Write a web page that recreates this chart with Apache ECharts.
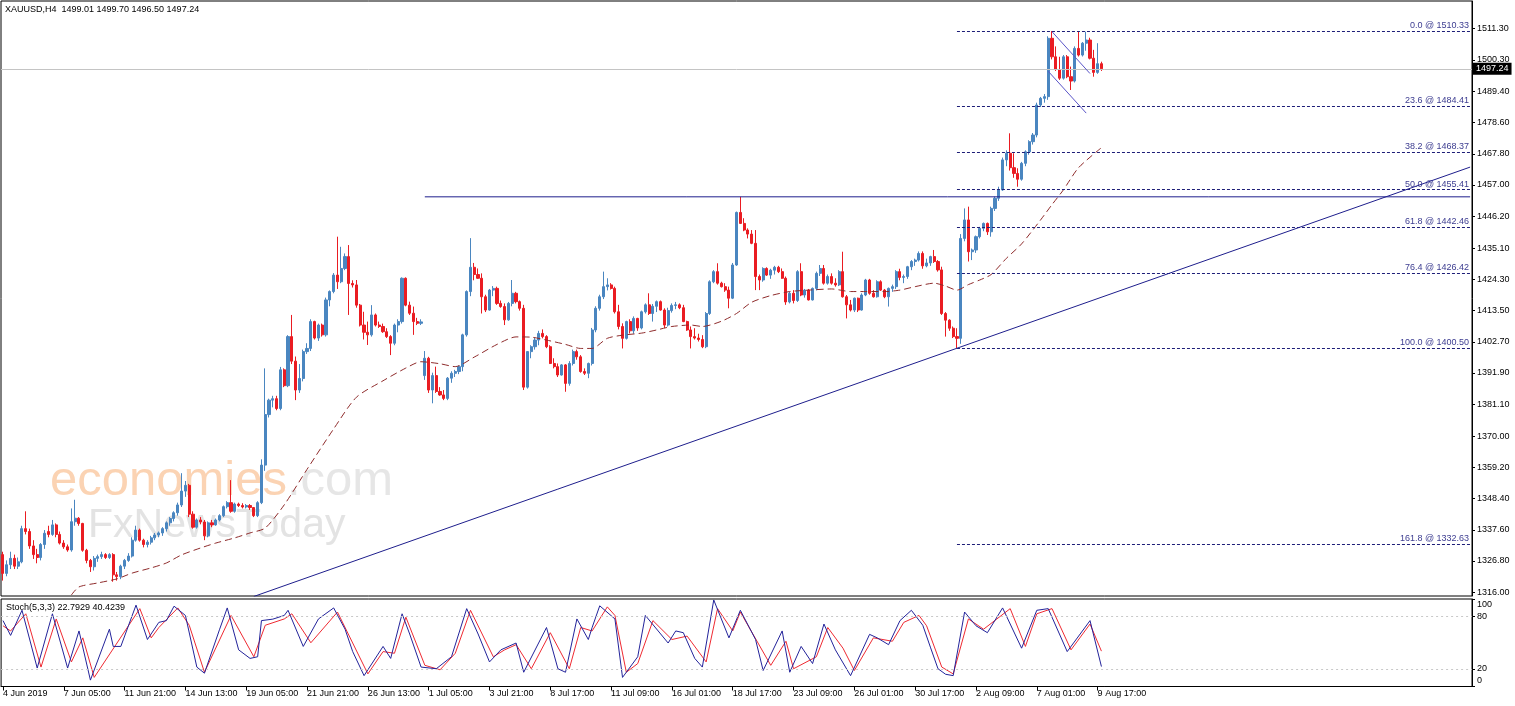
<!DOCTYPE html>
<html>
<head>
<meta charset="utf-8">
<script src="https://cdn.jsdelivr.net/npm/echarts@6/dist/echarts.min.js"></script>
<style>
html,body{margin:0;padding:0;background:#fff;}
#chart{width:1515px;height:706px;}
</style>
</head>
<body>
<div id="chart"></div>
<script>
// ---------- DATA ----------
const symbolTitle = 'XAUUSD,H4  1499.01 1499.70 1496.50 1497.24';
const stochTitle = 'Stoch(5,3,3) 22.7929 40.4239';

const xTickLabels = ['4 Jun 2019','7 Jun 05:00','11 Jun 21:00','14 Jun 13:00','19 Jun 05:00','21 Jun 21:00',
  '26 Jun 13:00','1 Jul 05:00','3 Jul 21:00','8 Jul 17:00','11 Jul 09:00','16 Jul 01:00','18 Jul 17:00',
  '23 Jul 09:00','26 Jul 01:00','30 Jul 17:00','2 Aug 09:00','7 Aug 01:00','9 Aug 17:00'];
const barsPerLabel = 16;
const totalSlots = 387;

const yTickValues = [1316.00,1326.80,1337.60,1348.40,1359.20,1370.00,1381.10,1391.90,1402.70,1413.50,
  1424.30,1435.10,1446.20,1457.00,1467.80,1478.60,1489.40,1500.30,1511.30];
const stochTickValues = [0,20,80,100];
const stochLevels = [20,80];

const opens = [1329,1322.5,1325.5,1327.7,1325,1326.5,1338,1337,1332,1329,
1328,1332.5,1337,1336,1339.3,1336,1333,1331.7,1330.6,1340.4,
1341.6,1339.8,1330.5,1327,1324.8,1327.7,1328.3,1329,1328,1329,
1322,1321.4,1325,1327,1328.5,1334,1337.5,1334,1332.5,1333.3,
1334.8,1335.8,1336.5,1338,1340,1341.5,1343.5,1346.2,1351,1353,
1343,1338.5,1341,1340.3,1335.5,1340,1339.3,1341,1342.5,1345.6,
1347,1344,1346.5,1346,1345.5,1346,1345.3,1342.5,1347,1360,
1377.5,1382.5,1383,1379.6,1393,1387.5,1404.5,1396,1386,1390,
1399.3,1400.4,1409.7,1404,1408.5,1405.1,1417.2,1420.1,1425.8,1423.5,
1428.1,1432.2,1422.9,1422.4,1415.4,1408.5,1406,1405.1,1412,1408.5,
1408,1406.2,1404.5,1402.2,1408.5,1409.7,1424.7,1415.4,1412.6,1409.7,
1409.1,1391,1397,1386,1391,1385.5,1384.3,1383.1,1390.1,1391.8,
1392.4,1394.1,1405.1,1420.1,1428.5,1426,1424.7,1418.3,1413.7,1420.6,
1421.2,1416,1414.9,1410.3,1416,1419.5,1416.6,1414.3,1387,1399.3,
1401,1403.3,1405.6,1404.5,1401,1395.2,1394.1,1391.2,1394.7,1388.3,
1395.2,1399.3,1397.5,1392.4,1391.8,1395.2,1406.8,1414.3,1418.3,1421.8,
1422.4,1421.2,1413.1,1408,1403.9,1409.7,1406.5,1410.8,1407.5,1413.1,
1415.5,1412.5,1415,1416.6,1413.7,1408.5,1413.5,1415.3,1415.5,1414.5,
1409.7,1406.8,1404.5,1404,1403.5,1401,1412.5,1423.5,1427,1423,
1421.8,1420.6,1417.8,1429.3,1447.5,1443.7,1441.4,1440,1436.8,1425.3,
1424.1,1428.1,1425.8,1427.5,1428.5,1427,1424.7,1416.5,1419.5,1417,
1427,1418.9,1420.6,1417.2,1421.2,1426.4,1428.1,1423,1425.3,1423,
1422.4,1427,1418.3,1415.5,1413.7,1417.8,1413.7,1418.9,1424.1,1419.5,
1418.3,1423.5,1420.6,1418.3,1421.2,1421.8,1427,1425,1425.3,1428.7,
1430.5,1431,1433.3,1429,1430,1432.2,1430.5,1427.6,1412.5,1410.2,
1407.4,1404.5,1403.9,1438.5,1444.9,1433.9,1434.5,1439.1,1442,1443.7,
1440.8,1448.9,1452.4,1455.3,1465.7,1468,1463,1461,1459,1464.5,
1468.5,1472,1474.3,1484.7,1487,1487.6,1507.8,1501.4,1497,1494,
1501.4,1494.5,1493,1504.3,1502,1506.1,1507.2,1500.9,1496,1499.01];

const highs = [1330,1327,1330,1329,1328,1339,1344,1338,1334,1331,
1333,1337.5,1339,1341,1339.8,1337,1334,1332.5,1345,1348,
1342,1340,1331,1327.5,1328.5,1329,1330,1329.5,1329.5,1329.5,
1323,1325.5,1327.5,1329.5,1335,1339,1338,1334.5,1334,1335.5,
1336.5,1337,1338.5,1340.5,1342,1344,1347,1357.2,1354.5,1353.5,
1344,1341.5,1342,1341,1340.5,1341,1341.5,1343,1346,1347.5,
1354.8,1347,1347,1346.8,1346.5,1346.5,1345.5,1347.5,1362,1393.5,
1383,1384,1384,1394,1393.5,1405,1412,1397.6,1395,1400,
1402.2,1410.5,1410,1409,1409,1418,1420.5,1426.5,1439.1,1435.6,
1433.3,1436.2,1424,1424.1,1415.8,1413.1,1409.7,1415.4,1412.5,1409.7,
1409,1407.4,1405,1409,1410.5,1425,1425,1416.6,1414.9,1411,
1410.5,1399.5,1397.5,1392,1394.1,1387,1386,1390.5,1392.5,1393,
1394.5,1405.5,1420.5,1438.6,1430,1428.1,1426.4,1419,1421,1422,
1421.8,1417,1416,1416.5,1424.1,1420,1417,1415.5,1399.5,1401.5,
1404,1406.5,1407,1405,1401.5,1397,1395.2,1395,1395,1396,
1400,1400,1398.1,1393.5,1395.5,1407.5,1415,1419,1427,1424.7,
1423,1421.8,1415.5,1409.1,1410,1410.5,1411.5,1411,1413.5,1416,
1419.5,1415.8,1417,1417,1414.3,1414.5,1416,1416.5,1416,1415.5,
1410,1408,1407.4,1405.5,1405,1413,1424,1427.5,1429.9,1423.5,
1423,1421.8,1430,1447.8,1452.9,1445.5,1442,1441.4,1441.4,1426,
1428.5,1428.5,1428,1429,1429,1428.1,1425.3,1420,1420.6,1427.5,
1429.9,1421,1421,1421.5,1427,1429.3,1429.3,1426,1426.4,1424.7,
1427.5,1433.9,1418.9,1417.2,1418,1418,1419.5,1424.5,1424.5,1420.6,
1424,1424,1421,1421.5,1422.5,1427.5,1428,1426,1429,1431,
1431.5,1434,1434,1431.5,1432.5,1434.5,1431,1428.7,1413,1410.5,
1408,1407.4,1440,1448.9,1449.5,1435,1439.5,1442.5,1444,1444,
1449.5,1453,1456.4,1466.5,1469,1474.9,1468,1462.8,1465,1469,
1472.5,1475,1485.5,1487.5,1488.5,1508.5,1510.33,1505,1501.4,1502,
1502,1498,1505,1510.1,1506.5,1510.1,1508,1503.8,1506.1,1499.70];

const lows = [1320,1321.5,1324,1324,1324,1326,1336,1331,1327.5,1326,
1327,1331,1335,1335.5,1335,1332.5,1331,1330,1330,1339,
1339,1330,1326,1323,1323.5,1326.5,1327.5,1327.5,1327.5,1319.6,
1320,1320.5,1324,1326.5,1328,1333.5,1333.5,1331.5,1331.5,1332.5,
1334,1335,1335.5,1337,1339,1340.5,1342.5,1345.5,1349,1342,
1338,1338,1339.5,1334,1335,1338.5,1339,1340.5,1342,1345,
1343.5,1343.5,1345.5,1345,1345,1344.5,1342,1342,1346.5,1358,
1376.5,1380,1379,1379,1387,1387,1395,1382.5,1385,1389,
1398.5,1399.5,1403.5,1403,1404.5,1404.5,1415,1419.5,1421,1423,
1427.5,1412,1421.5,1414.5,1408,1403.5,1401.6,1404.5,1408,1407.5,
1405.8,1404,1398.1,1401.5,1406,1409,1415,1412,1405.1,1408.5,
1408.5,1389.5,1385,1381.4,1385,1384,1382.5,1382.5,1388.5,1390.5,
1391.5,1392.5,1404.5,1418.5,1424,1424.5,1412.5,1413,1413.5,1418.5,
1415.5,1414.5,1408.5,1410,1415,1416,1413.5,1386,1386.5,1397,
1400,1401.5,1403.9,1400.5,1395,1393.5,1390.5,1391,1385.4,1387.5,
1394.5,1396.5,1392,1391.2,1390.1,1394.5,1406,1413.5,1417.5,1420.5,
1420.8,1412.5,1407,1400.4,1403.5,1405.6,1405.5,1406.5,1407,1412.5,
1412,1409.7,1413,1413.5,1407.5,1408,1412.8,1414,1414,1409.5,
1406.5,1400.4,1403.5,1402.8,1400.5,1400.5,1412,1423,1422.5,1421.5,
1420,1414.3,1417.5,1429,1443.5,1441,1438.5,1436.5,1420.6,1420.6,
1423.5,1425.5,1424.5,1426,1426.5,1424.5,1415.5,1416,1416,1416.5,
1418.5,1418,1417,1417,1420.5,1425.5,1422.5,1422.5,1422.5,1421.8,
1422,1418,1410.8,1413.2,1413,1413,1413.5,1418.5,1419,1418,
1418,1420.3,1417.8,1414.9,1420,1421,1424,1423,1424.5,1427.5,
1429,1430.5,1428,1428.5,1429,1430,1427,1412,1404.5,1406.5,
1404,1400.5,1402,1437.5,1430.5,1431,1433.5,1438.5,1441,1439.7,
1439.1,1448,1451.5,1455,1463.5,1462,1459.5,1456.4,1458.5,1463.5,
1467.5,1471,1473.5,1484,1485.5,1486.5,1500.5,1496.5,1493.4,1493.5,
1494,1489.9,1492.5,1501.5,1501.5,1503.5,1500.5,1494.5,1495.5,1496.50];

const closes = [1322.5,1325.5,1327.7,1325,1326.5,1338,1337,1332,1329,1328,
1332.5,1336.4,1336,1339.3,1336,1333,1331.7,1330.6,1340.4,1341.6,
1339.8,1330.5,1327,1324.8,1327.7,1328.3,1329,1328,1329,1322,
1321.4,1325,1327,1328.5,1334,1337.5,1334,1332.5,1333.3,1334.8,
1335.8,1336.5,1338,1340,1341.5,1343.5,1346.2,1351,1353,1343,
1338.5,1341,1340.3,1335.5,1340,1339.3,1341,1342.5,1345.6,1347,
1344,1346.5,1346,1345.5,1346,1345.3,1342.5,1347,1360,1377.5,
1382.5,1383,1379.6,1393,1387.5,1404.5,1396,1386,1390,1399.3,
1400.4,1409.7,1404,1408.5,1405.1,1417.2,1420.1,1425.8,1423.5,1428.1,
1432.2,1422.9,1422.4,1415.4,1408.5,1406,1405.1,1412,1408.5,1408,
1406.2,1404.5,1402.2,1408.5,1409.7,1424.7,1415.4,1412.6,1409.7,1409.1,
1409.6,1397,1386,1391,1385.5,1384.3,1383.1,1390.1,1391.8,1392.4,
1394.1,1405.1,1420.1,1428.5,1426,1424.7,1418.3,1413.7,1420.6,1421.2,
1416,1414.9,1410.3,1416,1419.5,1416.6,1414.3,1387,1399.3,1401,
1403.3,1405.6,1404.5,1401,1395.2,1394.1,1391.2,1394.7,1388.3,1395.2,
1399.3,1397.5,1392.4,1391.8,1395.2,1406.8,1414.3,1418.3,1421.8,1422.4,
1421.2,1413.1,1408,1403.9,1409.7,1406.5,1410.8,1407.5,1413.1,1415.5,
1412.5,1415,1416.6,1413.7,1408.5,1413.5,1415.3,1415.5,1414.5,1409.7,
1406.8,1404.5,1404,1403.5,1401,1412.5,1423.5,1427,1423,1421.8,
1420.6,1417.8,1429.3,1447.5,1443.7,1441.4,1440,1436.8,1425.3,1424.1,
1428.1,1425.8,1427.5,1428.5,1427,1424.7,1416.5,1419.5,1417,1427,
1418.9,1420.6,1417.2,1421.2,1426.4,1428.1,1423,1425.3,1423,1422.4,
1427,1418.3,1415.5,1413.7,1417.8,1413.7,1418.9,1424.1,1419.5,1418.3,
1423.5,1420.6,1418.3,1421.2,1421.8,1427,1425,1425.3,1428.7,1430.5,
1431,1433.3,1429,1430,1432.2,1430.5,1427.6,1412.5,1410.2,1407.4,
1404.5,1403.9,1438.5,1444.9,1433.9,1434.5,1439.1,1442,1443.7,1440.8,
1448.9,1452.4,1455.3,1465.7,1468,1463,1461,1459,1464.5,1468.5,
1472,1474.3,1484.7,1487,1487.6,1507.8,1501.4,1497,1494,1501.4,
1494.5,1493,1504.3,1502,1506.1,1507.2,1500.9,1496,1499.01,1497.24];

// dashed moving average: [bar index, price]
const maPoints = [[18,1315.0],[20,1317.8],[25,1319.2],[30,1320.6],[34,1322.6],[39,1324.4],[43,1326.1],
[47,1328.9],[52,1331.3],[56,1333.0],[61,1334.8],[65,1336.5],[69,1338.2],[74,1346.2],[80,1358.5],
[87,1372.5],[93,1383.5],[100,1389.2],[106,1393.6],[110,1395.8],[115,1395.1],[119,1394.1],[124,1397.4],
[130,1401.8],[135,1404.4],[139,1404.3],[143,1403.3],[148,1401.8],[152,1400.4],[155,1400.4],[159,1403.9],
[163,1405.0],[168,1405.7],[172,1406.8],[176,1408.0],[181,1408.5],[184,1408.0],[189,1409.8],[193,1412.5],
[197,1416.4],[202,1418.7],[207,1420.1],[212,1420.6],[218,1421.0],[223,1420.1],[227,1420.1],[232,1420.1],
[236,1420.6],[240,1421.8],[245,1423.0],[248,1422.0],[251,1420.6],[254,1422.5],[257,1424.1],[260,1426.0],
[264,1431.6],[268,1436.6],[273,1444.9],[276,1450.2],[279,1455.3],[283,1463.0],[289,1469.9]];

// stochastic lines, turning points: [bar index, value]
const stochMain = [[0,75.3],[2,58.4],[5,87.1],[9,21.1],[13,83.1],[17,21.1],[20,63.5],[23,7.3],[28,65.5],
[29,45.8],[31,45.8],[35,93],[38,53.7],[41,73.3],[43,75.3],[45,91.8],[48,81.2],[51,22.2],[53,15.2],[57,65.5],
[59,89.8],[62,41.9],[65,32.1],[67,34],[68,75.3],[71,77],[74,81.2],[75,87.1],[79,45.8],[83,77.2],[87,89.8],
[90,65.5],[92,40],[95,12.4],[100,45.8],[102,32.1],[105,83.1],[107,60],[110,22.2],[114,20.3],[118,34],
[122,89],[125,60],[128,28.1],[131,41.9],[135,49.7],[137,16.3],[143,67.4],[146,20.3],[148,16.3],[151,77.2],
[154,53.7],[155,67.4],[157,92.2],[161,77.2],[163,10.4],[167,34],[169,81.2],[175,49.7],[177,63.5],[179,61.5],
[182,32.1],[184,22.2],[187,98.9],[191,55.6],[194,87.1],[198,53.7],[200,18.3],[205,63.5],[207,16.3],
[210,45.8],[213,26.2],[216,71.4],[219,41.9],[223,12.4],[228,59.6],[230,55.6],[233,47.8],[236,75.3],
[239,87.1],[242,70],[244,45],[246,20.3],[248,14],[250,12.4],[253,85.1],[256,69.4],[259,61.5],[263,89.8],
[268,43.8],[272,87.1],[275,89],[280,39.9],[286,75.3],[289,22.79]];

const stochSignal = [[0,69.4],[2,63.5],[6,83.1],[10,22.2],[14,77.2],[18,28.1],[21,55.6],[24,10.4],[30,49.7],
[36,89],[39,55.6],[41,67.4],[46,89.8],[49,70],[53,16.3],[60,81.2],[66,34],[69,70],[74,77.2],[76,83.1],
[81,50],[88,85.1],[96,14.4],[100,39.9],[103,38],[106,79.2],[111,24.2],[115,19.1],[119,38],[123,87.1],
[129,34],[132,41.9],[135,47.8],[139,20.3],[144,61.5],[149,20.3],[152,67.4],[155,63.5],[159,91],[161,81.2],
[164,16.3],[167,26.2],[171,75.3],[176,53.7],[180,57.6],[185,28.1],[188,89],[192,63.5],[194,85.1],
[202,24.2],[206,51.7],[208,20.3],[214,34],[217,67.4],[221,43.8],[224,18.3],[229,55.6],[234,51.7],
[237,73.3],[241,81.2],[243,69.4],[247,22.2],[250,14.4],[254,77.2],[258,65.5],[265,89],[269,45.8],
[272,83.1],[276,89],[281,41.9],[286,71.4],[289,40.42]];

// Fibonacci retracement
const fibRatios = ['0.0','23.6','38.2','50.0','61.8','76.4','100.0','161.8'];
const fibPrices = [1510.33,1484.41,1468.37,1455.41,1442.46,1426.42,1400.50,1332.63];
const fibStartBar = 251;

// drawn lines: [bar index, price]
const trendLine = [[66,1314.5],[386,1463.2]];
const resistanceLine = [[111,1452.9],[386,1452.9]];
const flagUpper = [[276,1510.1],[286,1495.6]];
const flagLower = [[275,1496.4],[285,1481.9]];

// ---------- CHART ----------
const FONT = '"Liberation Sans", Arial, sans-serif';
const categories = Array.from({length: totalSlots}, (_, i) => String(i));
const candleData = opens.map((o, i) => [o, closes[i], lows[i], highs[i]]);
const lastIndex = closes.length - 1;
const showTick = (idx) => idx % barsPerLabel === 0 && idx / barsPerLabel < xTickLabels.length;

const fibMarkLines = fibPrices.map((p, k) => [
  {coord: [fibStartBar, p], name: fibRatios[k] + ' @ ' + p.toFixed(2)},
  {coord: [totalSlots - 1, p]}
]);

const chart = echarts.init(document.getElementById('chart'), null, {renderer: 'canvas'});
chart.setOption({
  animation: false,
  backgroundColor: '#ffffff',
  textStyle: {fontFamily: FONT},
  graphic: [
    {type: 'text', x: 50, y: 481, z: 0, silent: true,
     style: {text: '{a|economies}{b|.com}', verticalAlign: 'middle',
       rich: {a: {fill: '#fbd3b3', color: '#fbd3b3', fontSize: 49, fontFamily: FONT},
              b: {fill: '#e6e6e6', color: '#e6e6e6', fontSize: 49, fontFamily: FONT}}}},
    {type: 'text', x: 88, y: 526, z: 0, silent: true,
     style: {text: 'FxNewsToday', verticalAlign: 'middle', fill: '#e3e3e3', fontSize: 41, fontFamily: FONT}},
    {type: 'text', x: 5, y: 10, z: 10, silent: true,
     style: {text: symbolTitle, verticalAlign: 'middle', fill: '#000', fontSize: 9, fontFamily: FONT}},
    {type: 'text', x: 6, y: 608, z: 10, silent: true,
     style: {text: stochTitle, verticalAlign: 'middle', fill: '#000', fontSize: 9, fontFamily: FONT}}
  ],
  grid: [
    {left: 1, right: 43, top: 1, height: 595, show: true, borderColor: '#000', borderWidth: 1, backgroundColor: 'transparent'},
    {left: 1, right: 43, top: 599, height: 87.5, show: true, borderColor: '#000', borderWidth: 1, backgroundColor: 'transparent'}
  ],
  xAxis: [
    {type: 'category', gridIndex: 0, data: categories, boundaryGap: true,
     axisLine: {show: false}, axisTick: {show: false}, axisLabel: {show: false}, splitLine: {show: false}},
    {type: 'category', gridIndex: 1, data: categories, boundaryGap: true,
     axisLine: {show: true, lineStyle: {color: '#000', width: 1}},
     axisTick: {show: true, alignWithLabel: true, length: 4, interval: (idx) => showTick(idx), lineStyle: {color: '#000'}},
     axisLabel: {show: true, interval: (idx) => showTick(idx),
       formatter: (v, idx) => showTick(idx) ? xTickLabels[idx / barsPerLabel] : '',
       align: 'left', margin: 3, fontSize: 9, color: '#000', fontFamily: FONT},
     splitLine: {show: false}}
  ],
  yAxis: [
    {type: 'value', gridIndex: 0, position: 'right', min: 1314.67, max: 1520.72, scale: true,
     splitLine: {show: false},
     axisLine: {show: true, lineStyle: {color: '#000'}},
     axisTick: {show: true, customValues: yTickValues, length: 3, lineStyle: {color: '#000'}},
     axisLabel: {customValues: yTickValues, formatter: (v) => v.toFixed(2), fontSize: 9, color: '#000', margin: 5, fontFamily: FONT}},
    {type: 'value', gridIndex: 1, position: 'right', min: 0, max: 100,
     splitLine: {show: false},
     axisLine: {show: true, lineStyle: {color: '#000'}},
     axisTick: {show: true, customValues: stochTickValues, length: 3, lineStyle: {color: '#000'}},
     axisLabel: {customValues: stochTickValues, lineHeight: 11,
       formatter: (v) => v === 100 ? ' \n100' : (v === 0 ? '0\n ' : String(v)),
       fontSize: 9, color: '#000', margin: 5, fontFamily: FONT}}
  ],
  series: [
    {
      type: 'candlestick', name: 'XAUUSD', xAxisIndex: 0, yAxisIndex: 0, data: candleData,
      barWidth: 2.6, z: 3,
      itemStyle: {color: '#4a86c0', color0: '#ea1c22', borderColor: '#4a86c0', borderColor0: '#ea1c22', borderWidth: 1},
      markLine: {
        silent: true, symbol: ['none', 'none'], animation: false,
        data: [
          ...fibMarkLines.map(pair => [
            Object.assign({}, pair[0], {
              lineStyle: {color: '#1e1e78', type: [3, 2], width: 1},
              label: {show: true, position: 'insideEndTop', formatter: '{b}', color: '#3c3c90', fontSize: 9,
                      fontFamily: FONT, distance: [1, 1]}
            }),
            pair[1]
          ]),
          {yAxis: closes[lastIndex], name: 'last',
           lineStyle: {color: '#c4c4c4', type: 'solid', width: 1},
           label: {show: true, position: 'end', formatter: (p) => p.value.toFixed(2), color: '#fff',
                   backgroundColor: '#000', padding: [2, 3, 1, 3], fontSize: 9, fontFamily: FONT, distance: 1}}
        ]
      }
    },
    {type: 'line', name: 'MA', xAxisIndex: 0, yAxisIndex: 0, data: maPoints, smooth: 0.25, showSymbol: false,
     z: 4, lineStyle: {color: '#8e2b2b', width: 1, type: [7, 4]}},
    {type: 'line', name: 'trend', xAxisIndex: 0, yAxisIndex: 0, data: trendLine, showSymbol: false, z: 5,
     lineStyle: {color: '#1e1e8c', width: 1}},
    {type: 'line', name: 'resistance', xAxisIndex: 0, yAxisIndex: 0, data: resistanceLine, showSymbol: false, z: 5,
     lineStyle: {color: '#1e1e8c', width: 1}},
    {type: 'line', name: 'flagUpper', xAxisIndex: 0, yAxisIndex: 0, data: flagUpper, showSymbol: false, z: 5,
     lineStyle: {color: '#5a55c8', width: 1}},
    {type: 'line', name: 'flagLower', xAxisIndex: 0, yAxisIndex: 0, data: flagLower, showSymbol: false, z: 5,
     lineStyle: {color: '#5a55c8', width: 1}},
    {type: 'line', name: 'StochMain', xAxisIndex: 1, yAxisIndex: 1, data: stochMain, showSymbol: false, z: 4,
     lineStyle: {color: '#23239a', width: 1},
     markLine: {silent: true, symbol: ['none', 'none'], label: {show: false},
       lineStyle: {color: '#c8c8c8', type: [2, 3], width: 1},
       data: stochLevels.map(v => ({yAxis: v}))}},
    {type: 'line', name: 'StochSignal', xAxisIndex: 1, yAxisIndex: 1, data: stochSignal, showSymbol: false, z: 3,
     lineStyle: {color: '#ef2a32', width: 1}}
  ]
});
</script>
</body>
</html>
